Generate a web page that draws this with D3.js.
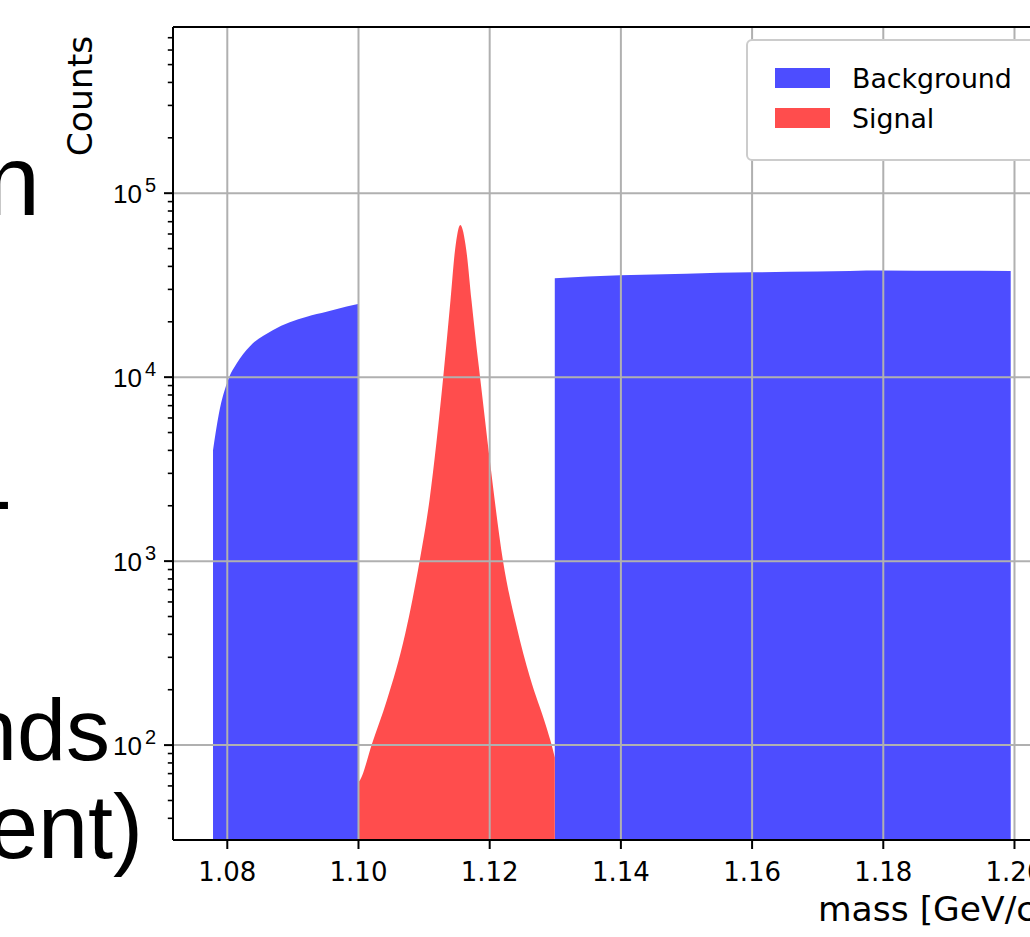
<!DOCTYPE html>
<html>
<head>
<meta charset="utf-8">
<script src="https://cdn.jsdelivr.net/npm/d3@7"></script>
<style>
  body { margin: 0; background: #fff; overflow: hidden; }
  svg { display: block; font-family: "DejaVu Sans", sans-serif; }
</style>
</head>
<body>
<div id="chart"></div>
<script>
/*
 * Invariant mass histogram, background + signal, log scale
 */

// background below the peak window (mass, counts)
var bgLowMass   = [1.0779, 1.0788, 1.0802, 1.0815, 1.0835, 1.0870, 1.0922, 1.0952, 1.0993, 1.1000];
var bgLowCounts = [3980, 6300, 9600, 11800, 14600, 17900, 21200, 22500, 24500, 24800];

// background above the peak window
var bgHighMass   = [1.1300, 1.1400, 1.1500, 1.1600, 1.1700, 1.1800, 1.1900, 1.1995];
var bgHighCounts = [34300, 35600, 36300, 36900, 37300, 37800, 37600, 37500];

// signal peak
var sigMass   = [1.1000, 1.1003, 1.1021, 1.1044, 1.1072, 1.1094, 1.1109, 1.1130, 1.1141, 1.1148,
                 1.1156, 1.1165, 1.1173, 1.1183, 1.1186, 1.1201, 1.1221, 1.1242, 1.1262, 1.1287, 1.1295, 1.1300];
var sigCounts = [62, 64, 100, 174, 400, 1000, 2130, 10000, 26000, 49000,
                 66700, 49000, 26000, 12300, 10000, 3500, 1000, 436, 233, 125, 100, 85];

var xTicks = [1.08, 1.10, 1.12, 1.14, 1.16, 1.18, 1.20];
var yTicks = [1e2, 1e3, 1e4, 1e5];
var legendLabels = ["Background", "Signal"];
var colors = ["#4d4dff", "#ff4d4d"];

var W = 1030, H = 937;
var margin = {left: 173, top: 27};
var width = 881, height = 813;   // right spine sits past the page edge

var svg = d3.select("#chart").append("svg").attr("width", W).attr("height", H);

// slide text peeking in from the left
var slide = svg.append("g").style("font-family", "'Liberation Sans', Arial, sans-serif").attr("fill", "#000");
slide.append("text").attr("x", 40).attr("y", 215).attr("text-anchor", "end").style("font-size", "100px").text("n");
slide.append("text").attr("x", 12).attr("y", 530).attr("text-anchor", "end").style("font-size", "90px").text("-");
slide.append("text").attr("x", 110).attr("y", 760).attr("text-anchor", "end").style("font-size", "88px").text("nds");
slide.append("text").attr("x", 143).attr("y", 858).attr("text-anchor", "end").style("font-size", "90px").text("ent)");

var g = svg.append("g").attr("transform", "translate(" + margin.left + "," + margin.top + ")");

var x = d3.scaleLinear().domain([1.0718, 1.2061]).range([0, width]);
var y = d3.scaleLog().domain([30.3, 795500]).range([height, 0]);

// clip the fills to the axes box
g.append("clipPath").attr("id", "plotclip").append("rect").attr("width", width).attr("height", height);

var area = d3.area()
  .x(function(d){ return x(d[0]); })
  .y0(height)
  .y1(function(d){ return y(d[1]); })
  .curve(d3.curveMonotoneX);

function pairs(a, b){ return a.map(function(v, i){ return [v, b[i]]; }); }

var fills = g.append("g").attr("clip-path", "url(#plotclip)");
fills.append("path").datum(pairs(bgLowMass, bgLowCounts)).attr("d", area).attr("fill", colors[0]);
fills.append("path").datum(pairs(bgHighMass, bgHighCounts)).attr("d", area).attr("fill", colors[0]);
fills.append("path").datum(pairs(sigMass, sigCounts)).attr("d", area).attr("fill", colors[1]);

// grid on top of the bars, like matplotlib
g.append("g").attr("class", "grid")
  .call(d3.axisBottom(x).tickValues(xTicks).tickSize(height).tickFormat(""));
g.append("g").attr("class", "grid")
  .call(d3.axisLeft(y).tickValues(yTicks).tickSize(-width).tickFormat(""));
g.selectAll(".grid .domain").remove();
g.selectAll(".grid line").attr("stroke", "#b0b0b0").attr("stroke-width", 2);

// minor ticks on log axis
var minors = [];
[10, 100, 1000, 1e4, 1e5].forEach(function(dec){
  for (var k = 2; k <= 9; k++) {
    var v = dec * k;
    if (v >= 30.3 && v <= 795500) minors.push(v);
  }
});

var yMinor = g.append("g").call(d3.axisLeft(y).tickValues(minors).tickSize(5.2).tickFormat(""));
yMinor.select(".domain").remove();
yMinor.selectAll("line").attr("stroke", "#000").attr("stroke-width", 1.6);

var yMajor = g.append("g").call(d3.axisLeft(y).tickValues(yTicks).tickSize(9).tickFormat(""));
yMajor.select(".domain").remove();
yMajor.selectAll("line").attr("stroke", "#000").attr("stroke-width", 2);

// y tick labels as 10^k
yMajor.selectAll(".tick").each(function(d){
  var t = d3.select(this).append("text")
    .attr("x", -17).attr("y", 9.5)
    .attr("text-anchor", "end")
    .attr("fill", "#000")
    .style("font-size", "26px");
  t.append("tspan").text("10");
  t.append("tspan").attr("dx", 3).attr("dy", -11).style("font-size", "20px").text(Math.round(Math.log10(d)));
});

var xAxis = g.append("g").attr("transform", "translate(0," + height + ")")
  .call(d3.axisBottom(x).tickValues(xTicks).tickSize(9).tickPadding(13.5).tickFormat(d3.format(".2f")));
xAxis.select(".domain").remove();
xAxis.selectAll("line").attr("stroke", "#000").attr("stroke-width", 2);
xAxis.selectAll("text").attr("fill", "#000").style("font-size", "26px").style("font-family", "'DejaVu Sans', sans-serif");

// spines
g.append("line").attr("x1", 0).attr("x2", 0).attr("y1", 0).attr("y2", height).attr("stroke", "#000").attr("stroke-width", 2);
g.append("line").attr("x1", 0).attr("x2", width).attr("y1", height).attr("y2", height).attr("stroke", "#000").attr("stroke-width", 2);
g.append("line").attr("x1", 0).attr("x2", width).attr("y1", 0).attr("y2", 0).attr("stroke", "#000").attr("stroke-width", 2);
g.append("line").attr("x1", width).attr("x2", width).attr("y1", 0).attr("y2", height).attr("stroke", "#000").attr("stroke-width", 2);

// axis labels
svg.append("text").attr("transform", "translate(92,96) rotate(-90)")
  .attr("text-anchor", "middle").style("font-size", "34.5px").text("Counts");
svg.append("text").attr("x", 818).attr("y", 921)
  .attr("text-anchor", "start").style("font-size", "34.5px").text("mass [GeV/c²]");

// legend
var leg = svg.append("g").attr("transform", "translate(747,40)");
leg.append("rect").attr("width", 294).attr("height", 120).attr("rx", 5)
  .attr("fill", "#fff").attr("stroke", "#cccccc").attr("stroke-width", 2);
legendLabels.forEach(function(lab, i){
  leg.append("rect").attr("x", 28).attr("y", 28 + i * 40).attr("width", 55).attr("height", 20).attr("fill", colors[i]);
  leg.append("text").attr("x", 105).attr("y", 47.5 + i * 40).style("font-size", "26.8px").text(lab);
});
</script>
</body>
</html>
